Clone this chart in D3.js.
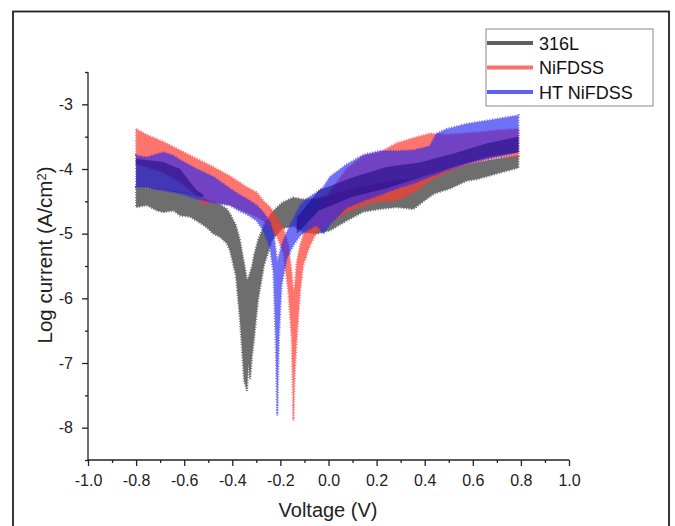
<!DOCTYPE html>
<html>
<head>
<meta charset="utf-8">
<script src="https://cdn.jsdelivr.net/npm/d3@7"></script>
<style>
  body { margin: 0; background: #fff; }
  svg { display: block; font-family: "Liberation Sans", Arial, sans-serif; }
  .axis path, .axis line { stroke: #222; stroke-width: 1.3; }
  .axis text { font-size: 16px; fill: #222; }
</style>
</head>
<body>
<script>

// tick labels
var xTicks = [-1.0, -0.8, -0.6, -0.4, -0.2, 0.0, 0.2, 0.4, 0.6, 0.8, 1.0];
var xMinor = [-0.9, -0.7, -0.5, -0.3, -0.1, 0.1, 0.3, 0.5, 0.7, 0.9];
var yTicks = [-8, -7, -6, -5, -4, -3];
var yMinor = [-8.5, -7.5, -6.5, -5.5, -4.5, -3.5, -2.5];

var seriesNames = ["316L", "NiFDSS", "HT NiFDSS"];

// 316L : voltage, upper and lower edge of the noisy trace (log A/cm2)
var v316 = [-0.80, -0.756, -0.714, -0.687, -0.645, -0.617, -0.576, -0.548, -0.507, -0.479, -0.451, -0.423, -0.41, -0.385, -0.368, -0.351, -0.339, -0.333, -0.326, -0.318, -0.31, -0.293, -0.268, -0.235, -0.193, -0.146, -0.105, -0.049, 0.006, 0.075, 0.145, 0.214, 0.283, 0.353, 0.395, 0.44, 0.506, 0.575, 0.616, 0.672, 0.72, 0.79];
var hi316 = [-4.28, -4.30, -4.31, -4.33, -4.35, -4.37, -4.40, -4.43, -4.47, -4.51, -4.55, -4.62, -4.69, -4.87, -5.10, -5.45, -5.72, -5.68, -5.60, -5.50, -5.34, -5.10, -4.87, -4.67, -4.52, -4.44, -4.47, -4.46, -4.41, -4.33, -4.27, -4.22, -4.18, -4.15, -4.12, -4.06, -4.00, -3.93, -3.90, -3.86, -3.83, -3.79];
var lo316 = [-4.59, -4.56, -4.64, -4.67, -4.64, -4.72, -4.74, -4.80, -4.90, -5.00, -5.05, -5.15, -5.26, -5.65, -6.34, -7.27, -7.43, -7.00, -7.25, -6.90, -6.65, -6.03, -5.49, -5.10, -4.92, -4.88, -4.98, -5.00, -4.95, -4.80, -4.66, -4.62, -4.59, -4.62, -4.50, -4.38, -4.30, -4.18, -4.16, -4.10, -4.05, -3.98];

// NiFDSS
var vNi = [-0.80, -0.756, -0.687, -0.617, -0.548, -0.52, -0.479, -0.41, -0.34, -0.299, -0.271, -0.243, -0.216, -0.188, -0.167, -0.153, -0.146, -0.14, -0.132, -0.118, -0.105, -0.077, -0.049, 0.006, 0.075, 0.145, 0.214, 0.283, 0.353, 0.422, 0.492, 0.561, 0.63, 0.70, 0.79];
var hiNi = [-3.38, -3.47, -3.58, -3.71, -3.84, -3.89, -3.97, -4.11, -4.28, -4.36, -4.49, -4.59, -4.74, -4.92, -5.18, -5.60, -5.90, -5.80, -5.44, -5.18, -5.03, -4.82, -4.67, -4.35, -4.00, -3.80, -3.74, -3.60, -3.52, -3.45, -3.47, -3.45, -3.43, -3.40, -3.38];
var loNi = [-3.92, -3.97, -4.05, -4.20, -4.41, -4.54, -4.51, -4.56, -4.67, -4.74, -4.80, -4.92, -5.03, -5.29, -5.90, -6.63, -7.89, -7.14, -6.63, -5.90, -5.49, -5.18, -4.98, -4.82, -4.67, -4.56, -4.50, -4.49, -4.36, -4.18, -4.05, -3.94, -3.88, -3.82, -3.80];

// HT NiFDSS
var vHT = [-0.80, -0.756, -0.687, -0.645, -0.617, -0.548, -0.479, -0.41, -0.37, -0.34, -0.299, -0.271, -0.243, -0.229, -0.22, -0.213, -0.206, -0.195, -0.174, -0.146, -0.118, -0.09, -0.049, -0.021, 0.006, 0.075, 0.145, 0.214, 0.283, 0.353, 0.42, 0.45, 0.492, 0.575, 0.66, 0.79];
var hiHT = [-3.79, -3.82, -3.74, -3.79, -3.86, -4.00, -4.12, -4.30, -4.40, -4.46, -4.56, -4.67, -4.82, -4.98, -5.23, -5.44, -5.34, -5.18, -4.98, -4.77, -4.56, -4.46, -4.36, -4.28, -4.12, -3.93, -3.78, -3.72, -3.72, -3.71, -3.65, -3.45, -3.38, -3.30, -3.25, -3.17];
var loHT = [-4.28, -4.28, -4.33, -4.36, -4.38, -4.46, -4.52, -4.56, -4.65, -4.70, -4.80, -4.95, -5.23, -5.60, -6.63, -7.81, -6.63, -5.80, -5.39, -5.18, -5.03, -4.95, -4.87, -5.00, -4.85, -4.60, -4.49, -4.40, -4.30, -4.22, -4.12, -4.08, -4.02, -3.92, -3.84, -3.74];

// HT NiFDSS dense core of the trace (null = no dense part)
var vCore = [-0.80, -0.687, -0.617, -0.576, -0.548, -0.52, -0.30, -0.132, -0.04, 0.10, 0.24, 0.38, 0.52, 0.66, 0.79];
var hiCore = [-3.84, -3.89, -4.00, -4.20, -4.33, -4.40, null, -4.75, -4.33, -4.13, -3.97, -3.90, -3.76, -3.60, -3.50];
var loCore = [-4.28, -4.33, -4.37, -4.40, -4.42, -4.44, null, -5.00, -4.64, -4.43, -4.30, -4.13, -3.97, -3.82, -3.74];

var W = 675, H = 526;

var svg = d3.select("body").append("svg")
    .attr("width", W)
    .attr("height", H);

// outer frame
svg.append("rect")
    .attr("x", 13).attr("y", 11.5)
    .attr("width", 656).attr("height", 530)
    .attr("fill", "none")
    .attr("stroke", "#222")
    .attr("stroke-width", 1.8);

var x = d3.scaleLinear().domain([-1, 1]).range([88, 569]);
var y = d3.scaleLinear().domain([-8.5, -2.5]).range([460, 72]);

function band(vs, his, los) {
    var pts = vs.map(function (v, i) { return { v: v, hi: his[i], lo: los[i] }; });
    return d3.area()
        .defined(function (d) { return d.hi !== null; })
        .x(function (d) { return x(d.v); })
        .y0(function (d) { return y(d.lo); })
        .y1(function (d) { return y(d.hi); })(pts);
}

var plot = svg.append("g");

// each trace: filled band plus a dashed edge of the same colour for the noisy look,
// made transparent as one layer
function drawBand(vs, his, los, color, op) {
    plot.append("g")
        .attr("opacity", op)
        .append("path")
        .attr("d", band(vs, his, los))
        .attr("fill", color)
        .attr("stroke", color)
        .attr("stroke-width", 2.2)
        .attr("stroke-dasharray", "1 1.6");
}

drawBand(v316, hi316, lo316, "rgb(110,110,110)", 1);
drawBand(vNi, hiNi, loNi, "rgb(255,60,50)", 0.7);
drawBand(vHT, hiHT, loHT, "rgb(40,40,240)", 0.66);

plot.append("path")
    .attr("d", band(vCore, hiCore, loCore))
    .attr("fill", "rgb(20,0,120)")
    .attr("fill-opacity", 0.5);

// axes
var xAxis = d3.axisBottom(x)
    .tickValues(xTicks)
    .tickSize(6)
    .tickPadding(9)
    .tickFormat(function (d) { return d.toFixed(1); });

var gx = svg.append("g")
    .attr("class", "axis")
    .attr("transform", "translate(0,460)")
    .call(xAxis);
gx.select(".domain").attr("d", "M" + x(-1) + ",0H" + x(1));

svg.append("g")
    .attr("class", "axis")
    .attr("transform", "translate(0,460)")
    .call(d3.axisBottom(x).tickValues(xMinor).tickSize(3).tickFormat(""))
    .select(".domain").remove();

var gy = svg.append("g")
    .attr("class", "axis")
    .attr("transform", "translate(88,0)")
    .call(d3.axisLeft(y).tickValues(yTicks).tickSize(6).tickPadding(9)
        .tickFormat(function (d) { return String(d); }));
gy.select(".domain").attr("d", "M0," + y(-2.5) + "V" + y(-8.5));

svg.append("g")
    .attr("class", "axis")
    .attr("transform", "translate(88,0)")
    .call(d3.axisLeft(y).tickValues(yMinor).tickSize(3).tickFormat(""))
    .select(".domain").remove();

// axis titles
svg.append("text")
    .attr("x", 328)
    .attr("y", 517)
    .attr("text-anchor", "middle")
    .style("font-size", "20px")
    .style("fill", "#222")
    .text("Voltage (V)");

var yt = svg.append("text")
    .attr("transform", "translate(52,255) rotate(-90)")
    .attr("text-anchor", "middle")
    .style("font-size", "20.5px")
    .style("fill", "#222");
yt.append("tspan").text("Log current (A/cm");
yt.append("tspan").attr("dy", "-0.45em").style("font-size", "13px").text("2");
yt.append("tspan").attr("dy", "0.3em").text(")");

// legend
var legendColors = ["rgb(95,95,95)", "rgb(255,110,105)", "rgb(95,95,240)"];
var legend = svg.append("g");
legend.append("rect")
    .attr("x", 486).attr("y", 29)
    .attr("width", 167).attr("height", 77)
    .attr("fill", "#fff")
    .attr("stroke", "#888")
    .attr("stroke-width", 1);

seriesNames.forEach(function (name, i) {
    var ly = 43 + i * 24.5;
    legend.append("line")
        .attr("x1", 487).attr("x2", 533)
        .attr("y1", ly).attr("y2", ly)
        .attr("stroke", legendColors[i])
        .attr("stroke-width", 4);
    legend.append("text")
        .attr("x", 539)
        .attr("y", ly + 6.5)
        .style("font-size", "18px")
        .style("fill", "#111")
        .text(name);
});

</script>
</body>
</html>
